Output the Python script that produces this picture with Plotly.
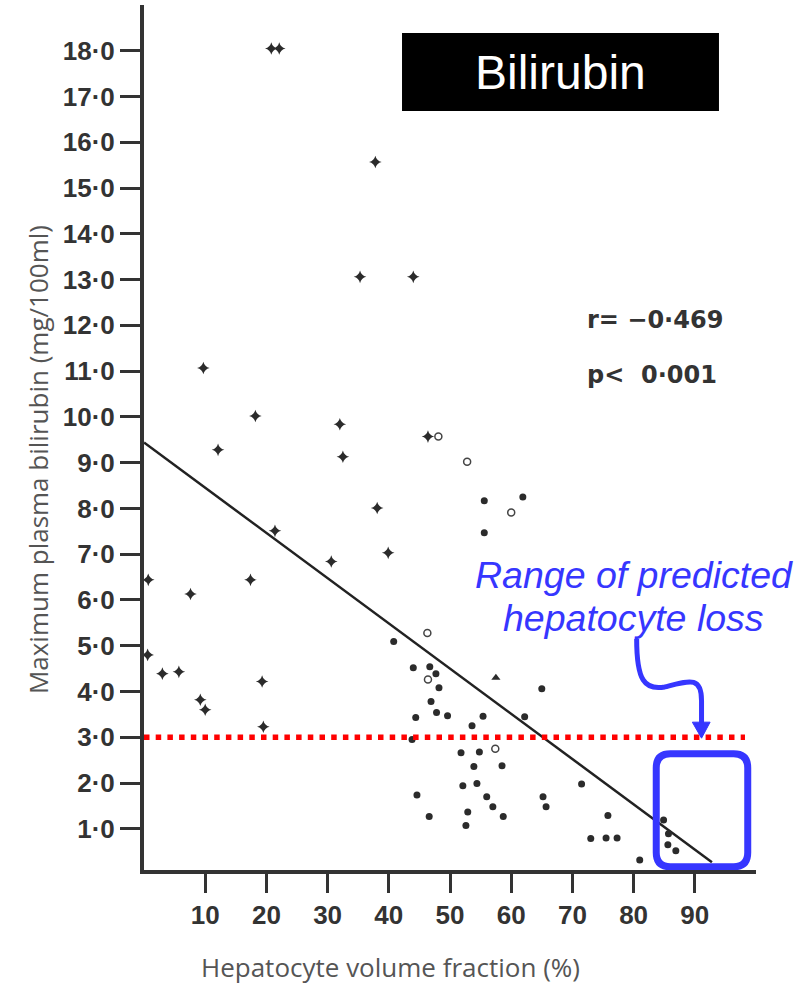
import plotly.graph_objects as go

# Hepatocyte volume fraction (%) vs maximum plasma bilirubin (mg/100ml)
plus_x = [20.8, 22.1, 37.8, 35.3, 44.0, 9.7, 18.2, 32.0, 12.1, 32.5, 38.1, 21.4, 39.9,
          30.6, 0.7, 17.4, 7.6, 46.4, 0.6, 3.0, 5.7, 9.2, 10.0, 19.3, 19.5]
plus_y = [18.05, 18.05, 15.57, 13.06, 13.06, 11.07, 10.02, 9.84, 9.28, 9.13, 8.01, 7.51, 7.03,
          6.84, 6.44, 6.44, 6.13, 9.57, 4.80, 4.39, 4.43, 3.82, 3.60, 4.22, 3.23]

open_x = [48.1, 52.8, 60.0, 46.3, 46.4, 57.4]
open_y = [9.57, 9.02, 7.91, 5.28, 4.26, 2.75]

tri_x = [57.5]
tri_y = [4.30]

dot_x = [55.6, 61.9, 55.6, 40.8, 44.0, 46.7, 47.7, 48.2, 65.0, 46.9, 44.4, 47.8, 49.6, 55.4,
         53.6, 62.2, 43.8, 51.8, 54.8, 53.9, 58.5, 52.1, 54.4, 44.6, 56.0, 57.0, 65.2, 65.7,
         46.6, 52.9, 58.7, 52.6, 71.5, 75.8, 73.0, 75.5, 77.3, 81.0, 84.9, 85.7, 85.6, 86.9]
dot_y = [8.17, 8.25, 7.47, 5.09, 4.52, 4.54, 4.39, 4.08, 4.06, 3.78, 3.43, 3.54, 3.47, 3.46,
         3.25, 3.45, 2.95, 2.66, 2.68, 2.36, 2.38, 1.94, 1.99, 1.74, 1.70, 1.48, 1.70, 1.48,
         1.27, 1.37, 1.27, 1.07, 1.98, 1.29, 0.79, 0.80, 0.80, 0.32, 1.19, 0.89, 0.65, 0.52]

# Regression line
fit_intercept = 9.44
fit_slope = -0.0988
fit_x = [0.0, 92.8]
fit_y = [fit_intercept + fit_slope * v for v in fit_x]

threshold = 3.0
x_ticks = [10, 20, 30, 40, 50, 60, 70, 80, 90]
x_ticklabels = [str(v) for v in x_ticks]
y_ticks = list(range(1, 19))
y_ticklabels = [f"{v}·0" for v in y_ticks]

INK = "#2b2b2b"
BLUE = "#3636ff"
TICK_FONT = dict(family="Liberation Sans", size=26, color="#333333", weight="bold")
STAT_FONT = dict(family="DejaVu Sans", size=24, color="#333333", weight="bold")
TITLE_FONT = dict(family="Open Sans", size=26, color="#555555")

fig = go.Figure()
fig.add_trace(go.Scatter(x=fit_x, y=fit_y, mode="lines",
                         line=dict(color="#222222", width=2.5), showlegend=False))
fig.add_trace(go.Scatter(x=plus_x, y=plus_y, mode="markers",
                         marker=dict(symbol="star-diamond", size=9, color=INK,
                                     line=dict(width=0)), showlegend=False))
fig.add_trace(go.Scatter(x=dot_x, y=dot_y, mode="markers",
                         marker=dict(symbol="circle", size=7, color=INK,
                                     line=dict(width=0)), showlegend=False))
fig.add_trace(go.Scatter(x=open_x, y=open_y, mode="markers",
                         marker=dict(symbol="circle-open", size=7, color="#444444",
                                     line=dict(width=1.5)), showlegend=False))
fig.add_trace(go.Scatter(x=tri_x, y=tri_y, mode="markers",
                         marker=dict(symbol="triangle-up", size=8, color=INK,
                                     line=dict(width=0)), showlegend=False))

# Rounded highlight box around the high volume-fraction points
bx0, bx1, by0, by1 = 83.7, 98.65, 0.17, 2.64
rx, ry = 2.3, 0.31
box_path = (f"M {bx0+rx},{by1} L {bx1-rx},{by1} Q {bx1},{by1} {bx1},{by1-ry} "
            f"L {bx1},{by0+ry} Q {bx1},{by0} {bx1-rx},{by0} "
            f"L {bx0+rx},{by0} Q {bx0},{by0} {bx0},{by0+ry} "
            f"L {bx0},{by1-ry} Q {bx0},{by1} {bx0+rx},{by1} Z")

arrow_path = ("M 80.5,5.15 C 80.5,4.24 81.8,4.02 85.1,4.10 "
              "C 89.2,4.24 91.1,4.34 91.1,3.80 L 91.1,3.30")
arrow_head = "M 89.6,3.33 L 92.5,3.33 L 91.1,2.98 Z"

fig.update_layout(
    width=798, height=987,
    margin=dict(l=144, r=42, t=5, b=117),
    paper_bgcolor="white", plot_bgcolor="white",
    xaxis=dict(range=[0, 100], showgrid=False, zeroline=False,
               showline=True, linewidth=4, linecolor="#333333",
               ticks="outside", ticklen=19, tickwidth=3, tickcolor="#333333",
               tickvals=x_ticks, ticktext=x_ticklabels, tickfont=TICK_FONT),
    yaxis=dict(range=[0.1, 19], showgrid=False, zeroline=False,
               showline=True, linewidth=4, linecolor="#333333",
               ticks="outside", ticklen=20, tickwidth=3, tickcolor="#333333",
               tickvals=y_ticks, ticktext=y_ticklabels, tickfont=TICK_FONT),
    shapes=[
        dict(type="line", xref="x", yref="y", x0=0, x1=98.2, y0=threshold, y1=threshold,
             line=dict(color="#ff0000", width=5.5, dash="5.5px,6.2px"), layer="above"),
        dict(type="path", xref="x", yref="y", path=box_path,
             line=dict(color=BLUE, width=7), layer="above"),
        dict(type="path", xref="x", yref="y", path=arrow_path,
             line=dict(color=BLUE, width=5), layer="above"),
        dict(type="path", xref="x", yref="y", path=arrow_head,
             fillcolor=BLUE, line=dict(color=BLUE, width=1), layer="above"),
        dict(type="rect", xref="paper", yref="paper", x0=0.4216, x1=0.9395,
             y0=0.8775, y1=0.9676, fillcolor="black", line=dict(width=0), layer="above"),
    ],
    annotations=[
        dict(text="Bilirubin", xref="paper", yref="paper", x=0.68, y=0.9225,
             xanchor="center", yanchor="middle", showarrow=False,
             font=dict(family="Liberation Sans", size=48, color="white")),
        dict(text="r= −0·469", xref="paper", yref="paper", x=0.7206, y=0.636,
             xanchor="left", yanchor="middle", showarrow=False, font=STAT_FONT),
        dict(text="p<  0·001", xref="paper", yref="paper", x=0.7206, y=0.572,
             xanchor="left", yanchor="middle", showarrow=False, font=STAT_FONT),
        dict(text="<i>Range of predicted</i>", xref="paper", yref="paper", x=0.8, y=0.3416,
             xanchor="center", yanchor="middle", showarrow=False,
             font=dict(family="Liberation Sans", size=37.5, color=BLUE)),
        dict(text="<i>hepatocyte loss</i>", xref="paper", yref="paper", x=0.8, y=0.2913,
             xanchor="center", yanchor="middle", showarrow=False,
             font=dict(family="Liberation Sans", size=37.5, color=BLUE)),
        dict(text="Maximum plasma bilirubin (mg/100ml)", xref="paper", yref="paper",
             x=-0.173, y=0.474, xanchor="center", yanchor="middle", textangle=-90,
             showarrow=False, font=TITLE_FONT),
        dict(text="Hepatocyte volume fraction (%)", xref="paper", yref="paper",
             x=0.402, y=-0.1125, xanchor="center", yanchor="middle",
             showarrow=False, font=TITLE_FONT),
    ],
)

fig.write_html("out.html")
